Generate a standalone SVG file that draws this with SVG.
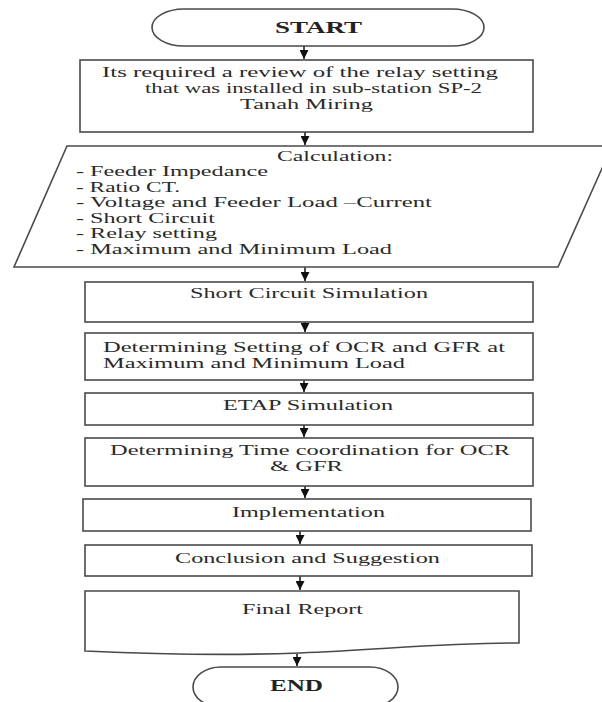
<svg xmlns="http://www.w3.org/2000/svg" width="602" height="702" viewBox="0 0 602 702">
<defs>
<marker id="ah" viewBox="0 0 10 10" refX="10" refY="5" markerWidth="10" markerHeight="9" markerUnits="userSpaceOnUse" orient="auto">
<path d="M0,0 L10,5 L0,10 z" fill="#111"/>
</marker>
<style>
.b{fill:#fff;stroke:#4a4a4a;stroke-width:1.6}
.t{font-family:"Liberation Serif","Times New Roman",serif;font-size:14px;fill:#2a2a2a}
.bt{font-family:"Liberation Serif","Times New Roman",serif;font-size:16px;font-weight:bold;fill:#222}
.c{stroke:#111;stroke-width:1.5;fill:none;marker-end:url(#ah)}
</style>
</defs>
<rect width="602" height="702" fill="#fff"/>
<g id="connectors">
<line class="c" x1="304" y1="46" x2="304" y2="59"/>
<line class="c" x1="305" y1="132" x2="305" y2="145"/>
<line class="c" x1="305" y1="267" x2="305" y2="281"/>
<line class="c" x1="305" y1="322" x2="305" y2="332"/>
<line class="c" x1="304" y1="380" x2="304" y2="392"/>
<line class="c" x1="304" y1="425" x2="304" y2="437"/>
<line class="c" x1="305" y1="486" x2="305" y2="498"/>
<line class="c" x1="300" y1="531" x2="300" y2="544"/>
<line class="c" x1="300" y1="576" x2="300" y2="590"/>
<line class="c" x1="297" y1="654" x2="297" y2="666"/>
</g>
<g id="start">
<rect class="b" x="152" y="9" width="332" height="37" rx="32" ry="18.5"/>
<text class="bt" x="275" y="33" textLength="87" lengthAdjust="spacingAndGlyphs">START</text>
</g>
<g id="review">
<rect class="b" x="80" y="60" width="453" height="72"/>
<text class="t" x="102" y="77" textLength="396" lengthAdjust="spacingAndGlyphs">Its required a review of the relay setting</text>
<text class="t" x="145" y="93" textLength="337" lengthAdjust="spacingAndGlyphs">that was installed in sub-station SP-2</text>
<text class="t" x="240" y="109" textLength="133" lengthAdjust="spacingAndGlyphs">Tanah Miring</text>
</g>
<g id="calculation">
<path class="b" d="M67,146 L612,146 L558,267 L14,267 Z"/>
<text class="t" x="277" y="161" textLength="116" lengthAdjust="spacingAndGlyphs">Calculation:</text>
<text class="t" x="76" y="176" textLength="192" lengthAdjust="spacingAndGlyphs">- Feeder Impedance</text>
<text class="t" x="76" y="192" textLength="104" lengthAdjust="spacingAndGlyphs">- Ratio CT.</text>
<text class="t" x="76" y="207" textLength="356" lengthAdjust="spacingAndGlyphs">- Voltage and Feeder Load –Current</text>
<text class="t" x="76" y="223" textLength="139" lengthAdjust="spacingAndGlyphs">- Short Circuit</text>
<text class="t" x="76" y="238" textLength="141" lengthAdjust="spacingAndGlyphs">- Relay setting</text>
<text class="t" x="76" y="254" textLength="316" lengthAdjust="spacingAndGlyphs">- Maximum and Minimum Load</text>
</g>
<g id="shortcircuit">
<rect class="b" x="85" y="282" width="448" height="40"/>
<text class="t" x="190" y="298" textLength="238" lengthAdjust="spacingAndGlyphs">Short Circuit Simulation</text>
</g>
<g id="settings">
<rect class="b" x="85" y="333" width="448" height="47"/>
<text class="t" x="103" y="352" textLength="402" lengthAdjust="spacingAndGlyphs">Determining Setting of OCR and GFR at</text>
<text class="t" x="103" y="368" textLength="302" lengthAdjust="spacingAndGlyphs">Maximum and Minimum Load</text>
</g>
<g id="etap">
<rect class="b" x="85" y="393" width="448" height="32"/>
<text class="t" x="223" y="410" textLength="170" lengthAdjust="spacingAndGlyphs">ETAP Simulation</text>
</g>
<g id="timecoord">
<rect class="b" x="85" y="438" width="448" height="48"/>
<text class="t" x="110" y="455" textLength="400" lengthAdjust="spacingAndGlyphs">Determining Time coordination for OCR</text>
<text class="t" x="270" y="471" textLength="73" lengthAdjust="spacingAndGlyphs">&amp; GFR</text>
</g>
<g id="implementation">
<rect class="b" x="83" y="499" width="448" height="32"/>
<text class="t" x="232" y="517" textLength="153" lengthAdjust="spacingAndGlyphs">Implementation</text>
</g>
<g id="conclusion">
<rect class="b" x="85" y="545" width="447" height="31"/>
<text class="t" x="175" y="563" textLength="265" lengthAdjust="spacingAndGlyphs">Conclusion and Suggestion</text>
</g>
<g id="finalreport">
<path class="b" d="M85,591 H519 V643 C440,643 380,650 300,653 C220,656 150,654 85,651 Z"/>
<text class="t" x="242" y="614" textLength="121" lengthAdjust="spacingAndGlyphs">Final Report</text>
</g>
<g id="end">
<rect class="b" x="193" y="667" width="205" height="40" rx="28" ry="20"/>
<text class="bt" x="270" y="691" textLength="53" lengthAdjust="spacingAndGlyphs">END</text>
</g>
</svg>
